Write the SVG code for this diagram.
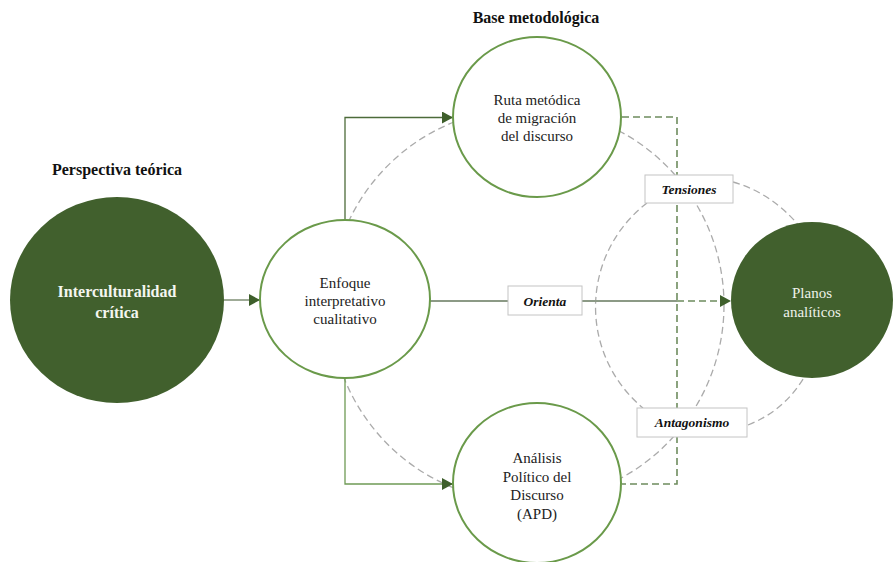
<svg xmlns="http://www.w3.org/2000/svg" width="893" height="562" viewBox="0 0 893 562">
<defs>
<marker id="ah" markerUnits="userSpaceOnUse" markerWidth="11" markerHeight="12" refX="11" refY="6" orient="auto">
<path d="M0,0 L11,6 L0,12 z" fill="#3e5f2b"/>
</marker>
<style>
text{font-family:"Liberation Serif","Times New Roman","DejaVu Serif",serif}
.title{font-weight:bold;font-size:16px;fill:#111;text-anchor:middle}
.nt{font-size:15px;fill:#222;text-anchor:middle}
.nw{font-size:15px;fill:#eef2ea;text-anchor:middle}
.nb{font-size:16px;font-weight:bold;fill:#f4f6f0;text-anchor:middle}
.lbl{font-size:13.5px;font-weight:bold;font-style:italic;fill:#111;text-anchor:middle}
.gd{fill:none;stroke:#ababab;stroke-width:1.3;stroke-dasharray:7 4}
.gb{fill:none;stroke:#6e8c5e;stroke-width:1.6;stroke-dasharray:7 4}
.box{fill:#fff;stroke:#c4c4c4;stroke-width:1}
.wn{fill:#fff;stroke:#6a9a4a;stroke-width:2}
.dn{fill:#41602d}
</style>
</defs>
<rect width="893" height="562" fill="#fff"/>
<text class="title" x="536" y="23">Base metodológica</text>
<text class="title" x="117" y="175">Perspectiva teórica</text>
<g id="connectors">
<circle class="gd" cx="527" cy="305" r="197"/>
<path class="gd" d="M647,203 A131,131 0 0 0 643,408"/>
<path class="gd" d="M733,182 Q772,193 800,227"/>
<path class="gd" d="M748,425 Q786,410 806,374"/>
<path class="gb" d="M622,117 H677 V484 H622"/>
<line x1="224" y1="300" x2="260" y2="300" stroke="#7f8f75" stroke-width="1.5" marker-end="url(#ah)"/>
<path d="M345,220 V117.5 H453" fill="none" stroke="#4d6b3a" stroke-width="1.3" marker-end="url(#ah)"/>
<path d="M345,377 V484 H453" fill="none" stroke="#6f9a55" stroke-width="1.3" marker-end="url(#ah)"/>
<line x1="430" y1="301" x2="677" y2="301" stroke="#8c9a86" stroke-width="2"/>
<line x1="677" y1="301" x2="731" y2="301" stroke="#6e8c5e" stroke-width="1.6" stroke-dasharray="7 4" marker-end="url(#ah)"/>
<rect class="box" x="508" y="286" width="74" height="29"/>
<text class="lbl" x="545" y="306">Orienta</text>
<rect class="box" x="645" y="175" width="88" height="28"/>
<text class="lbl" x="689" y="194">Tensiones</text>
<rect class="box" x="637" y="408" width="110" height="29"/>
<text class="lbl" x="692" y="427">Antagonismo</text>
</g>
<g id="intercultural">
<ellipse class="dn" cx="117" cy="300" rx="107" ry="103"/>
<text class="nb" x="117" y="297">Interculturalidad</text>
<text class="nb" x="117" y="318">crítica</text>
</g>
<g id="enfoque">
<ellipse class="wn" cx="345" cy="299" rx="85" ry="79"/>
<text class="nt" x="345" y="288">Enfoque</text>
<text class="nt" x="345" y="306">interpretativo</text>
<text class="nt" x="345" y="324">cualitativo</text>
</g>
<g id="ruta">
<ellipse class="wn" cx="537" cy="117" rx="84" ry="80"/>
<text class="nt" x="537" y="105">Ruta metódica</text>
<text class="nt" x="537" y="123">de migración</text>
<text class="nt" x="537" y="141">del discurso</text>
</g>
<g id="apd">
<ellipse class="wn" cx="537" cy="483" rx="84" ry="80"/>
<text class="nt" x="537" y="463">Análisis</text>
<text class="nt" x="537" y="482">Político del</text>
<text class="nt" x="537" y="500">Discurso</text>
<text class="nt" x="537" y="519">(APD)</text>
</g>
<g id="planos">
<ellipse class="dn" cx="812" cy="300" rx="81" ry="78"/>
<text class="nw" x="812" y="298">Planos</text>
<text class="nw" x="812" y="317">analíticos</text>
</g>
</svg>
